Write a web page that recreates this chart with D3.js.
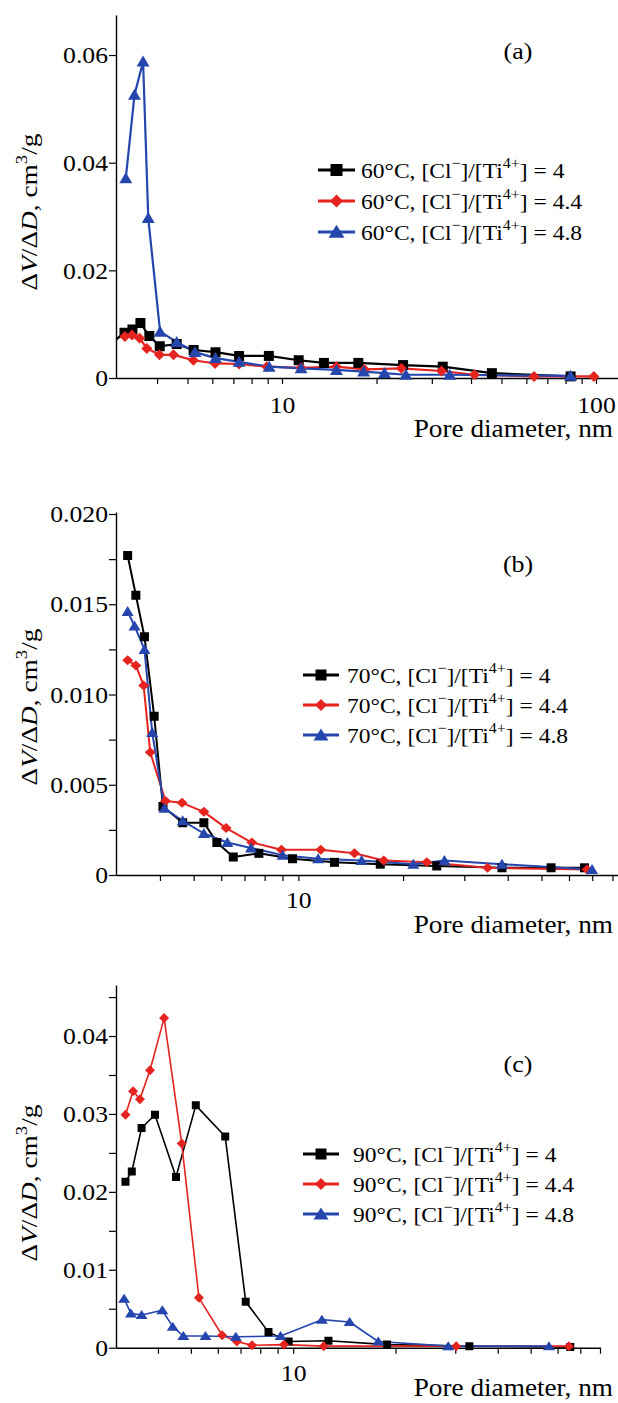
<!DOCTYPE html>
<html>
<head>
<meta charset="utf-8">
<script src="https://cdn.jsdelivr.net/npm/d3@7"></script>
<style>
  body { margin: 0; background: #fff; }
</style>
</head>
<body>
<svg id="fig" width="618" height="1403"></svg>
<script>
// ---- data: [pore diameter nm, dV/dD cm3/g] ----

// (a) 60 C
var a_r4  = [[2.85,0.0064],[3.15,0.0084],[3.34,0.0090],[3.54,0.0102],[3.78,0.0078],[4.08,0.0059],[4.62,0.0063],[5.23,0.0052],[6.14,0.0048],[7.3,0.0041],[9.08,0.0041],[11.3,0.0033],[13.6,0.0028],[17.5,0.0028],[24.3,0.0024],[32.5,0.0021],[46.6,0.0009],[83.0,0.0003]];
var a_r44 = [[3.16,0.0077],[3.33,0.0080],[3.52,0.0074],[3.71,0.0055],[4.07,0.0043],[4.51,0.0043],[5.22,0.0033],[6.12,0.0027],[7.3,0.0026],[8.94,0.0021],[11.5,0.0019],[14.9,0.0021],[18.3,0.0016],[24.0,0.0018],[32.2,0.0013],[41.0,0.0006],[63.5,0.0003],[98.5,0.0003]];
var a_r48 = [[3.18,0.0371],[3.39,0.0526],[3.61,0.0588],[3.75,0.0297],[4.09,0.0086],[4.62,0.0067],[5.28,0.0048],[6.14,0.0037],[7.3,0.0030],[9.1,0.0021],[11.5,0.0018],[14.9,0.0015],[18.2,0.0012],[21.2,0.0009],[24.8,0.0006],[34.2,0.0006],[83.0,0.0004]];

// (b) 70 C
var b_r4  = [[3.23,0.0177],[3.41,0.0155],[3.61,0.0132],[3.85,0.0088],[4.08,0.0038],[4.65,0.0029],[5.35,0.0029],[5.83,0.0018],[6.5,0.0010],[7.7,0.0012],[9.62,0.0009],[12.7,0.0007],[17.2,0.0006],[25.0,0.0005],[38.5,0.0004],[53.3,0.0004],[66.5,0.0004]];
var b_r44 = [[3.23,0.0119],[3.41,0.0116],[3.59,0.0105],[3.75,0.0068],[4.15,0.0041],[4.63,0.0040],[5.35,0.0035],[6.2,0.0026],[7.35,0.0018],[8.94,0.0014],[11.6,0.0014],[14.5,0.0012],[17.6,0.0008],[23.4,0.0007],[35.0,0.0004],[67.6,0.0003]];
var b_r48 = [[3.23,0.0146],[3.38,0.0138],[3.61,0.0125],[3.8,0.0079],[4.12,0.0037],[4.65,0.0030],[5.35,0.0023],[6.25,0.0018],[7.31,0.0015],[9.01,0.0011],[11.4,0.0009],[15.2,0.0008],[21.4,0.0006],[26.3,0.0008],[38.5,0.0006],[69.9,0.0003]];

// (c) 90 C
var c_r4  = [[3.21,0.0213],[3.35,0.0226],[3.58,0.0282],[3.92,0.0299],[4.52,0.0219],[5.17,0.0311],[6.31,0.0271],[7.25,0.0059],[8.46,0.0020],[9.7,0.0008],[12.7,0.0009],[18.9,0.0004],[33.0,0.0002],[65.4,0.0001]];
var c_r44 = [[3.21,0.0299],[3.38,0.0329],[3.54,0.0319],[3.79,0.0356],[4.17,0.0423],[4.70,0.0262],[5.28,0.0064],[6.18,0.0016],[6.83,0.0008],[7.57,0.0003],[9.4,0.0004],[12.3,0.0002],[30.2,0.0002],[64.8,0.0002]];
var c_r48 = [[3.18,0.0063],[3.33,0.0044],[3.58,0.0042],[4.12,0.0048],[4.42,0.0027],[4.75,0.0015],[5.52,0.0015],[6.78,0.0014],[9.18,0.0015],[12.15,0.0036],[14.66,0.0033],[17.8,0.0008],[28.6,0.0002],[56.6,0.0002]];

// tick values / labels
var xMinor   = [4,5,6,7,8,9,20,30,40,50,60,70,80,90];
var xMajor   = [10,100];
var aYTicks  = [0,0.02,0.04,0.06];
var aYMinor  = [];
var bYTicks  = [0,0.005,0.010,0.015,0.020];
var bYMinor  = [0.0025,0.0075,0.0125,0.0175];
var cYTicks  = [0,0.01,0.02,0.03,0.04];
var cYMinor  = [0.005,0.015,0.025,0.035,0.045];
var ratios   = ["4","4.4","4.8"];
var temps    = ["60","70","90"];
var letters  = ["(a)","(b)","(c)"];

//-----------------------------------------------------------------------

var FONT = "'Liberation Serif', 'Times New Roman', serif";
var colors = ["#000000", "#e5231f", "#2446ad"];
var svg = d3.select("#fig");

// text is drawn a little wider than the font, like the scan
function addText(g, x, y, size, sx, anchor, parts, rot)
{
  var t = g.append("text")
    .attr("transform", "translate(" + x + "," + y + ")" + (rot ? " rotate(" + rot + ")" : "") + " scale(" + sx + ",1)")
    .attr("text-anchor", anchor)
    .attr("font-family", FONT)
    .attr("font-size", size)
    .attr("fill", "#000");
  var up = false;
  parts.forEach(function (p) {
    var s = t.append("tspan").text(p[0]);
    if (p[1] == "s") {
      s.attr("font-size", size * 0.68);
      if (!up) s.attr("dy", -size * 0.42);
      up = true;
    } else {
      if (up) s.attr("dy", size * 0.42);
      up = false;
      if (p[1] == "i") s.attr("font-style", "italic");
    }
  });
  return t;
}

// marker shapes, w x h
function markerPath(kind, w, h)
{
  var a = w / 2, b = h / 2;
  if (kind == 0) return "M" + (-a) + "," + (-b) + "H" + a + "V" + b + "H" + (-a) + "Z";
  if (kind == 1) return "M0," + (-b) + "L" + a + ",0L0," + b + "L" + (-a) + ",0Z";
  return "M0," + (-b * 1.1) + "L" + a + "," + (b * 0.9) + "H" + (-a) + "Z";
}

//-----------------------------------------------------------------------

function drawPanel(p)
{
  var g = svg.append("g");

  var x = d3.scaleLog().domain(p.xDomain).range([116, p.xEnd]);
  var y = d3.scaleLinear().domain([0, (p.y0 - p.yTop) / p.perUnit]).range([p.y0, p.yTop]);

  var clipId = "clip" + p.idx;
  svg.append("clipPath").attr("id", clipId)
    .append("rect").attr("x", 116.5).attr("y", p.yTop - 20)
    .attr("width", p.xEnd - 116).attr("height", p.y0 - p.yTop + 30);

  // x axis
  var xTicks = xMinor.concat(xMajor).filter(function (d) { return d >= p.xDomain[0] && d <= p.xDomain[1]; });
  var xa = g.append("g").attr("transform", "translate(0," + p.y0 + ")")
    .call(d3.axisBottom(x).tickValues(xTicks)
      .tickFormat(function (d) { return xMajor.indexOf(d) >= 0 ? String(d) : ""; })
      .tickSize(6).tickSizeOuter(0).tickPadding(p.xPad));
  xa.select(".domain").attr("stroke-width", 1.4);
  xa.selectAll(".tick line").attr("stroke-width", 1.2);
  xa.selectAll("text").attr("font-family", FONT).attr("font-size", 24).attr("fill", "#000")
    .attr("transform", "scale(1.07,1)");

  // y axis
  var yTicks = p.yTicks.concat(p.yMinor);
  var ya = g.append("g").attr("transform", "translate(116,0)")
    .call(d3.axisLeft(y).tickValues(yTicks)
      .tickFormat(function (d) {
        if (p.yTicks.indexOf(d) < 0) return "";
        return d == 0 ? "0" : d3.format(p.fmt)(d);
      })
      .tickSize(7).tickSizeOuter(0).tickPadding(0.5));
  ya.select(".domain").attr("stroke-width", 1.4);
  ya.selectAll(".tick line").attr("stroke-width", 1.2);
  ya.selectAll("text").attr("font-family", FONT).attr("font-size", 24).attr("fill", "#000")
    .attr("transform", "scale(1.07,1)");

  // series
  var line = d3.line().x(function (d) { return x(d[0]); }).y(function (d) { return y(d[1]); });
  var plot = g.append("g").attr("clip-path", "url(#" + clipId + ")");
  p.series.forEach(function (s, i) {
    plot.append("path").datum(s)
      .attr("d", line).attr("fill", "none")
      .attr("stroke", colors[i]).attr("stroke-width", p.lw)
      .attr("stroke-linejoin", "round");
  });
  p.series.forEach(function (s, i) {
    plot.selectAll(".m" + i).data(s).enter().append("path")
      .attr("transform", function (d) { return "translate(" + x(d[0]) + "," + y(d[1]) + ")"; })
      .attr("d", markerPath(i, p.mk[i][0], p.mk[i][1]))
      .attr("fill", colors[i]);
  });

  // legend
  for (var i = 0; i < 3; ++i) {
    var ly = p.legY + i * p.legDy;
    g.append("line").attr("x1", p.legX0).attr("x2", p.legX1).attr("y1", ly).attr("y2", ly)
      .attr("stroke", colors[i]).attr("stroke-width", 3);
    g.append("path").attr("transform", "translate(" + ((p.legX0 + p.legX1) / 2) + "," + ly + ")")
      .attr("d", markerPath(i, p.lmk[i][0], p.lmk[i][1])).attr("fill", colors[i]);
    addText(g, p.legTx, ly + 7.5, 22, 1.07, "start",
      [[temps[p.idx] + "\u00b0C, [Cl", "n"], ["\u2212", "s"], ["]/[Ti", "n"], ["4+", "s"], ["] = " + ratios[i], "n"]]);
  }

  // panel letter
  addText(g, 518, p.letterY, 24, 1.08, "middle", [[letters[p.idx], "n"]]);

  // axis titles
  addText(g, 613, p.titleY, 25, 1.09, "end", [["Pore diameter, nm", "n"]]);
  addText(g, 37, p.yTitleC, 24, 1.14, "middle",
    [["\u0394", "n"], ["V", "i"], ["/\u0394", "n"], ["D", "i"], [", cm", "n"], ["3", "s"], ["/g", "n"]], -90);
}

//-----------------------------------------------------------------------

drawPanel({
  idx: 0, xDomain: [2.96, 117.5], xEnd: 618,
  y0: 378, yTop: 15, perUnit: 5383,
  yTicks: aYTicks, yMinor: aYMinor, fmt: ".2f", xPad: 11.5,
  series: [a_r4, a_r44, a_r48], lw: 2.2,
  mk: [[10, 10], [11, 11], [13, 11]],
  legY: 170, legDy: 31, legX0: 318, legX1: 355, legTx: 361, lmk: [[12, 12], [13, 13], [16, 13]],
  letterY: 59, titleY: 437, yTitleC: 212
});

drawPanel({
  idx: 1, xDomain: [2.99, 83], xEnd: 618,
  y0: 875, yTop: 512, perUnit: 18050,
  yTicks: bYTicks, yMinor: bYMinor, fmt: ".3f", xPad: 10,
  series: [b_r4, b_r44, b_r48], lw: 2,
  mk: [[9, 9], [11, 10], [12, 10]],
  legY: 675, legDy: 30, legX0: 303, legX1: 339, legTx: 347, lmk: [[11, 11], [12, 12], [15, 12]],
  letterY: 572, titleY: 933, yTitleC: 707
});

drawPanel({
  idx: 2, xDomain: [3.01, 80], xEnd: 600,
  y0: 1347.7, yTop: 985, perUnit: 7792,
  yTicks: cYTicks, yMinor: cYMinor, fmt: ".2f", xPad: 10,
  series: [c_r4, c_r44, c_r48], lw: 1.6,
  mk: [[8, 8], [10, 10], [12, 9]],
  legY: 1154, legDy: 30, legX0: 303, legX1: 339, legTx: 353, lmk: [[11, 11], [12, 12], [15, 12]],
  letterY: 1072, titleY: 1396, yTitleC: 1183
});
</script>
</body>
</html>
